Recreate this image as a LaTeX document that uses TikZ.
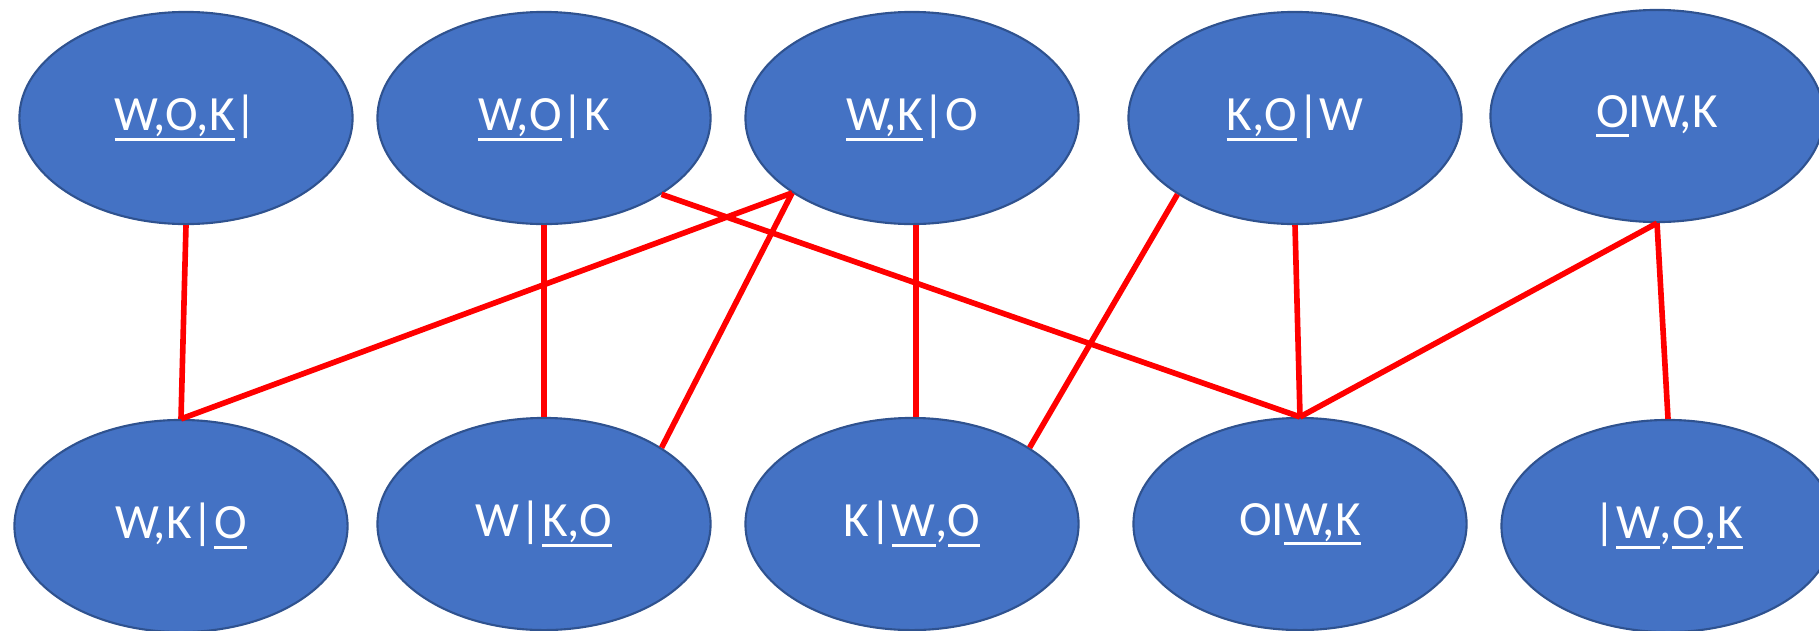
\documentclass[tikz,border=0pt]{standalone}
\usepackage{fontspec}
\setmainfont{Carlito}
\usetikzlibrary{shapes.geometric}
\definecolor{stateblue}{HTML}{4472C4}
\definecolor{stateedge}{HTML}{2F528F}
% thick underline for the marked items
\newcommand{\uln}[1]{\setbox0\hbox{#1}\rlap{\rule[-2.8pt]{\wd0}{0.9pt}}\box0}

\begin{document}
\begin{tikzpicture}[x=0.01cm,y=-0.01cm,
    state/.style={ellipse, fill=stateblue, draw=stateedge, line width=0.6pt,
      minimum width=3.33cm, minimum height=2.12cm, inner sep=0pt,
      text=white, font=\fontsize{14}{17}\selectfont},
    move/.style={red, line width=1.6pt}]
      \useasboundingbox (0,0) rectangle (1819,630);

      % Upper states
      \node[state] (t1) at (186,118) {\uln{W,O,K}|};
      \node[state] (t2) at (544,118) {\uln{W,O}|K};
      \node[state] (t3) at (912,118) {\uln{W,K}|O};
      \node[state] (t4) at (1295,118) {\uln{K,O}|W};
      \node[state] (t5) at (1657,116) {\uln{O}IW,K};

      % Lower states
      \node[state] (b1) at (181,526) {W,K|\uln{O}};
      \node[state] (b2) at (544,524) {W|\uln{K,O}};
      \node[state] (b3) at (912,524) {K|\uln{W},\uln{O}};
      \node[state] (b4) at (1300,524) {OI\uln{W,K}};
      \node[state] (b5) at (1668,526) {|\uln{W},\uln{O},\uln{K}};

      % Moves
      \draw[move] (t1.south) -- (b1.north);
      \draw[move] (t3.212) -- (b1.north);
      \draw[move] (t2.south) -- (b2.north);
      \draw[move] (t3.212) -- (b2.33);
      \draw[move] (t3.272) -- (b3.88);
      \draw[move] (t4.213) -- (b3.33);
      \draw[move] (t2.327) -- (b4.north);
      \draw[move] (t4.south) -- (b4.north);
      \draw[move] (t5.south) -- (b4.north);
      \draw[move] (t5.south) -- (b5.north);
    \end{tikzpicture}
\end{document}
